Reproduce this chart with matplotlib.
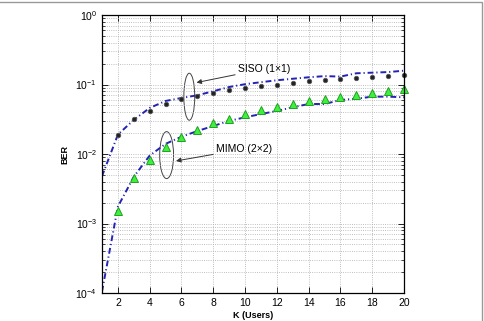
import matplotlib
matplotlib.use("Agg")
import matplotlib.pyplot as plt
from matplotlib.patches import Ellipse, Rectangle

plt.rcParams['font.family'] = ['Liberation Sans', 'DejaVu Sans']
plt.rcParams['mathtext.default'] = 'regular'

# simulated points
k_sim = [2, 3, 4, 5, 6, 7, 8, 9, 10, 11, 12, 13, 14, 15, 16, 17, 18, 19, 20]
siso_sim = [0.0188, 0.0316, 0.042, 0.052, 0.062, 0.068, 0.0746, 0.0824, 0.088, 0.094,
            0.099, 0.105, 0.111, 0.116, 0.120, 0.124, 0.128, 0.131, 0.136]
mimo_sim = [0.0015, 0.00447, 0.0082, 0.0127, 0.0174, 0.0221, 0.0276, 0.0319, 0.0372, 0.0425,
            0.0475, 0.0524, 0.0585, 0.0625, 0.0668, 0.0714, 0.0762, 0.0806, 0.085]

# analytical curves
k_ana = [1, 2, 3, 4, 5, 6, 7, 8, 9, 10, 11, 12, 13, 14, 15, 16, 17, 18, 19, 20]
siso_ana = [0.0048, 0.019, 0.031, 0.046, 0.058, 0.064, 0.070, 0.080, 0.092, 0.101,
            0.108, 0.115, 0.121, 0.127, 0.132, 0.130, 0.145, 0.148, 0.151, 0.158]
mimo_ana = [1.05e-4, 0.00175, 0.0047, 0.0095, 0.014, 0.0177, 0.0214, 0.0253, 0.030, 0.0337,
            0.0376, 0.0416, 0.047, 0.0524, 0.0524, 0.0598, 0.0625, 0.0668, 0.0668, 0.0655]

fig = plt.figure(figsize=(4.85, 3.21), dpi=100)
ax = fig.add_axes([102/485, 28/321, 302/485, 278/321])

blue = '#2323b4'
dash = (3, 1.5, 0.6, 1.5)
ax.plot(k_ana, siso_ana, color=blue, linewidth=1.4, dashes=dash)
ax.plot(k_ana, mimo_ana, color=blue, linewidth=1.4, dashes=dash)
ax.plot(k_sim, siso_sim, linestyle='none', marker='o', markersize=3.2, clip_on=False,
        markerfacecolor='#222222', markeredgecolor='#555555', markeredgewidth=0.6)
ax.plot(k_sim, mimo_sim, linestyle='none', marker='^', markersize=5.5, clip_on=False,
        markerfacecolor='#3ef03e', markeredgecolor='#22a022', markeredgewidth=0.7)

ax.set_yscale('log')
ax.set_xlim(1, 20)
ax.set_ylim(1e-4, 1)
ax.set_xticks(range(2, 21, 2))
ax.set_yticks([1e-4, 1e-3, 1e-2, 1e-1, 1])
ax.tick_params(which='both', direction='in', top=True, right=True, labelsize=7.5)
ax.tick_params(which='major', length=4, width=0.6)
ax.tick_params(which='minor', length=2, width=0.5)
ax.grid(True, which='major', linestyle=':', color='#aaaaaa', linewidth=0.6)
ax.grid(True, which='minor', axis='y', linestyle=':', color='#aaaaaa', linewidth=0.6)
for s in ax.spines.values():
    s.set_linewidth(0.9)

ax.set_xlabel('K (Users)', fontsize=6.5, fontweight='bold', labelpad=2)
ax.set_ylabel('BER', fontsize=6.5, fontweight='bold', labelpad=4)

# ellipses + annotations
ax.add_patch(Ellipse((0.289, 0.706), 0.036, 0.169, transform=ax.transAxes,
                     fill=False, edgecolor='#444444', linewidth=0.7))
ax.add_patch(Ellipse((0.214, 0.496), 0.046, 0.169, transform=ax.transAxes,
                     fill=False, edgecolor='#444444', linewidth=0.7))
ax.annotate('SISO (1×1)', xy=(0.313, 0.757), xytext=(0.45, 0.806),
            xycoords='axes fraction', textcoords='axes fraction',
            fontsize=7.5, va='center', ha='left',
            arrowprops=dict(arrowstyle='-|>', color='#333333', lw=0.7,
                            mutation_scale=7, shrinkA=0, shrinkB=0))
ax.annotate('MIMO (2×2)', xy=(0.245, 0.475), xytext=(0.377, 0.518),
            xycoords='axes fraction', textcoords='axes fraction',
            fontsize=7.5, va='center', ha='left',
            arrowprops=dict(arrowstyle='-|>', color='#333333', lw=0.7,
                            mutation_scale=7, shrinkA=0, shrinkB=0))

# thin frame around the figure
fig.patches.append(Rectangle((-0.01, -0.01), 482/485 + 0.01, 319/321 + 0.01,
                             transform=fig.transFigure, fill=False,
                             edgecolor='#999999', linewidth=1.0))

plt.savefig("out.png", dpi=100)
